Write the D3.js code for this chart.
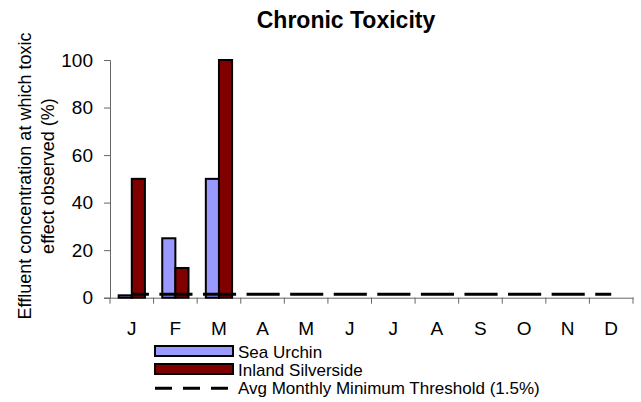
<!DOCTYPE html>
<html>
<head>
<meta charset="utf-8">
<script src="https://cdn.jsdelivr.net/npm/d3@7"></script>
<style>
  body { margin: 0; background: #fff; }
  text { font-family: "Liberation Sans", Arial, sans-serif; fill: #000; }
</style>
</head>
<body>
<div id="chart"></div>
<script>
var width = 641,
	height = 402;

// data
var months = ["J", "F", "M", "A", "M2", "J2", "J3", "A2", "S", "O", "N", "D"];
var monthLabels = ["J", "F", "M", "A", "M", "J", "J", "A", "S", "O", "N", "D"];
var seaUrchin = [1, 25, 50, null, null, null, null, null, null, null, null, null];
var silverside = [50, 12.5, 100, null, null, null, null, null, null, null, null, null];
var threshold = [1.5, 1.5, 1.5, 1.5, 1.5, 1.5, 1.5, 1.5, 1.5, 1.5, 1.5, 1.5];
var yTicks = [0, 20, 40, 60, 80, 100];
var seriesNames = ["Sea Urchin", "Inland Silverside"];
var seriesColors = ["#9999ff", "#800000"];
var lineName = "Avg Monthly Minimum Threshold (1.5%)";

var plot = { left: 110, right: 633, top: 60, bottom: 297.7 };

var svg = d3.select("#chart").append("svg")
	.attr("width", width)
	.attr("height", height);

var x = d3.scaleBand()
	.domain(months)
	.range([plot.left, plot.right]);

var x1 = d3.scaleBand()
	.domain([0, 1])
	.range([0, x.bandwidth()])
	.paddingOuter(0.66);

var y = d3.scaleLinear()
	.domain([0, 100])
	.range([plot.bottom, plot.top]);

// title
svg.append("text")
	.attr("x", 346)
	.attr("y", 28)
	.attr("text-anchor", "middle")
	.style("font-size", "23px")
	.style("font-weight", "bold")
	.text("Chronic Toxicity");

// y axis label (two lines)
var yl = svg.append("text")
	.attr("transform", "translate(31,176) rotate(-90)")
	.attr("text-anchor", "middle")
	.style("font-size", "18px");
yl.append("tspan").attr("x", 0).attr("y", 0).text("Effluent concentration at which toxic");
yl.append("tspan").attr("x", 0).attr("y", 23).text("effect observed (%)");

// axes
var yAxis = d3.axisLeft(y).tickValues(yTicks).tickSize(6).tickPadding(11);
var gY = svg.append("g")
	.attr("transform", "translate(" + plot.left + ",0)")
	.call(yAxis);
gY.selectAll("text").style("font-size", "19px");

var xAxis = d3.axisBottom(x).tickSize(0).tickPadding(24)
	.tickFormat(function (d, i) { return monthLabels[i]; });
var gX = svg.append("g")
	.attr("transform", "translate(0," + plot.bottom + ")")
	.call(xAxis);
gX.selectAll("text").style("font-size", "19px");

// category boundary ticks on x axis
var bounds = months.map(function (m) { return x(m); }).concat([plot.right]);
gX.selectAll(".btick").data(bounds).enter().append("line")
	.attr("class", "btick")
	.attr("x1", function (d) { return d; })
	.attr("x2", function (d) { return d; })
	.attr("y1", 0)
	.attr("y2", 6)
	.attr("stroke", "#666");

svg.selectAll(".domain").attr("stroke", "#666");
gY.selectAll(".tick line").attr("stroke", "#666");

// bars
var series = [seaUrchin, silverside];
series.forEach(function (vals, si) {
	svg.append("g")
		.selectAll("rect")
		.data(vals.map(function (v, i) { return { m: months[i], v: v }; })
			.filter(function (d) { return d.v != null; }))
		.enter().append("rect")
		.attr("x", function (d) { return x(d.m) + x1(si); })
		.attr("width", x1.bandwidth())
		.attr("y", function (d) { return y(d.v); })
		.attr("height", function (d) { return plot.bottom - y(d.v); })
		.attr("fill", seriesColors[si])
		.attr("stroke", "#000")
		.attr("stroke-width", 2);
});

// threshold dashed line
var step = x.step();
var line = d3.line()
	.x(function (d, i) { return x(months[i]) + x.bandwidth() / 2; })
	.y(function (d) { return y(d); });

svg.append("path")
	.datum(threshold)
	.attr("d", line)
	.attr("fill", "none")
	.attr("stroke", "#000")
	.attr("stroke-width", 3)
	.attr("stroke-dasharray", (step * 0.76) + "," + (step * 0.24))
	.attr("stroke-dashoffset", x.bandwidth() / 2 - 5.8);

// legend
var legend = svg.append("g");
var rowY = [351, 369, 388.3];
seriesNames.forEach(function (name, i) {
	legend.append("rect")
		.attr("x", 155)
		.attr("y", rowY[i] - 5)
		.attr("width", 78)
		.attr("height", 10)
		.attr("fill", seriesColors[i])
		.attr("stroke", "#000")
		.attr("stroke-width", 2);
	legend.append("text")
		.attr("x", 238)
		.attr("y", rowY[i] + 6.5)
		.style("font-size", "17px")
		.text(name);
});
legend.append("line")
	.attr("x1", 155)
	.attr("x2", 228)
	.attr("y1", rowY[2])
	.attr("y2", rowY[2])
	.attr("stroke", "#000")
	.attr("stroke-width", 3)
	.attr("stroke-dasharray", "17,11");
legend.append("text")
	.attr("x", 238)
	.attr("y", rowY[2] + 5.5)
	.style("font-size", "17px")
	.text(lineName);
</script>
</body>
</html>
